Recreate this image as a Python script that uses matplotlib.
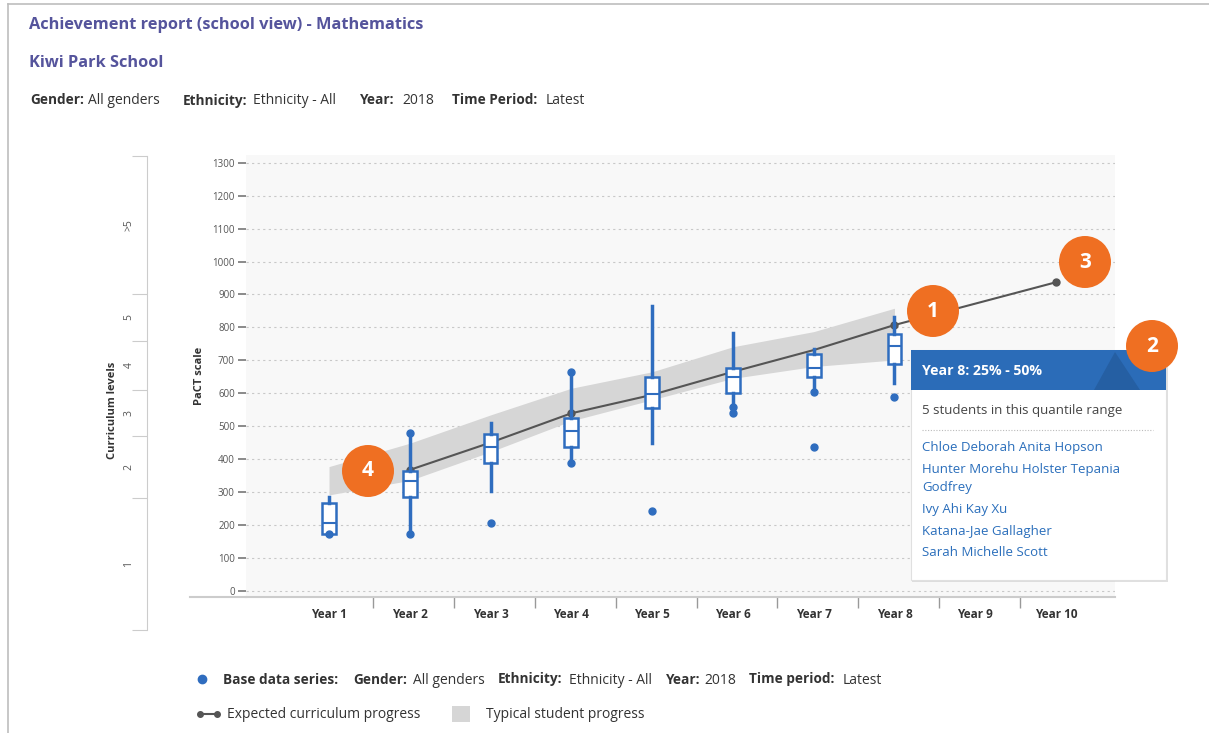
import numpy as np
import matplotlib
matplotlib.use('Agg')
import matplotlib.pyplot as plt
from matplotlib.patches import Ellipse, Rectangle, Polygon
from matplotlib.lines import Line2D

plt.rcParams['font.family'] = ['Open Sans', 'DejaVu Sans']

W, H = 1209, 733

# ---- data ----
years = ['Year 1', 'Year 2', 'Year 3', 'Year 4', 'Year 5',
         'Year 6', 'Year 7', 'Year 8', 'Year 9', 'Year 10']

box_years = [1, 2, 3, 4, 5, 6, 7, 8]
q1 = [172, 286, 389, 436, 554, 602, 650, 688]
med = [207, 333, 436, 486, 597, 650, 678, 742]
q3 = [267, 364, 476, 524, 650, 678, 719, 780]
whis_lo = [172, 172, 304, 387, 448, 559, 605, 630]
whis_hi = [286, 478, 510, 664, 866, 782, 733, 832]
outliers = [[172], [478, 172], [205], [664, 387], [242], [559, 541], [605, 436], [588]]

expected_years = [2, 3, 4, 5, 6, 7, 8, 9, 10]
expected = [367, 450, 539, 595, 665, 731, 807, 872, 937]

band_years = [1, 2, 3, 4, 5, 6, 7, 8]
band_hi = [377, 448, 534, 615, 665, 741, 787, 858]
band_lo = [291, 335, 422, 516, 580, 645, 681, 701]

level_bounds = [-120, 281, 468, 610, 758, 901, 1320]
level_names = ['1', '2', '3', '4', '5', '>5']

name_lines = ['Chloe Deborah Anita Hopson', 'Hunter Morehu Holster Tepania', 'Godfrey',
              'Ivy Ahi Kay Xu', 'Katana-Jae Gallagher', 'Sarah Michelle Scott']

blue = '#2f6dbf'
purple = '#55549c'
orange = '#ef6f22'

fig = plt.figure(figsize=(W / 100, H / 100), dpi=100)


def fx(px):
    return px / W


def fy(py):
    return 1 - py / H


# page frame
fig.add_artist(Line2D([fx(8), fx(8)], [fy(4), 0], color='#bdbdbd', lw=1.2))
fig.add_artist(Line2D([fx(8), 1], [fy(4), fy(4)], color='#bdbdbd', lw=1.2))

# header
fig.text(fx(29), fy(25), 'Achievement report (school view) - Mathematics', fontsize=11.8,
         fontweight='bold', color=purple, va='center')
fig.text(fx(29), fy(63), 'Kiwi Park School', fontsize=11.8, fontweight='bold', color=purple, va='center')


def runs(y, parts, color='#333333'):
    # parts: (x pixel, text, bold); y is the text middle, drawn on a shared baseline
    for x, txt, bold in parts:
        fig.text(fx(x), fy(y + 4.5), txt, fontsize=9.8 if bold else 10, color=color,
                 va='baseline', ha='left', fontweight=650 if bold else 'normal')


runs(100, [(30, 'Gender:', True), (88, 'All genders', False), (183, 'Ethnicity:', True),
           (253, 'Ethnicity - All', False), (360, 'Year:', True), (402, '2018', False),
           (452, 'Time Period:', True), (546, 'Latest', False)])

# ---- main axes ----
ax = fig.add_axes([fx(246), fy(597), (1115 - 246) / W, (597 - 155) / H])
ax.set_xlim(-0.0275, 10.73)
ax.set_ylim(-19.1, 1323.5)
ax.set_facecolor('#f8f8f8')
for s in ['top', 'right', 'left']:
    ax.spines[s].set_visible(False)
ax.spines['bottom'].set_color('#cccccc')
ax.spines['bottom'].set_linewidth(1.5)
fig.add_artist(Line2D([fx(190), fx(246)], [fy(597), fy(597)], color='#cccccc', lw=1.5))

ax.set_yticks(np.arange(0, 1301, 100))
ax.tick_params(axis='y', length=6, width=1.2, color='#777777', labelsize=7, labelcolor='#555555', pad=2)
ax.yaxis.grid(True, ls=(0, (2, 3)), color='#c8c8c8', lw=0.8)
ax.set_axisbelow(True)
ax.set_xticks(range(1, 11))
ax.set_xticklabels(years, fontweight='bold', fontsize=8.5, color='#333333')
ax.tick_params(axis='x', which='major', length=0, pad=8)
ax.set_xticks(np.arange(1.55, 10, 1), minor=True)
ax.tick_params(axis='x', which='minor', length=8, color='#999999', width=1)

ax.fill_between(band_years, band_lo, band_hi, color='#d6d6d6', lw=0, zorder=1)
ax.plot(expected_years, expected, color='#555555', lw=1.5, marker='o', markersize=5,
        markevery=[0, 2, 6, 8], zorder=2)

stats = []
for i in range(len(box_years)):
    stats.append(dict(q1=q1[i], med=med[i], q3=q3[i], whislo=whis_lo[i], whishi=whis_hi[i],
                      fliers=outliers[i]))
ax.bxp(stats, positions=box_years, widths=0.17, patch_artist=True, showcaps=False,
       manage_ticks=False,
       boxprops=dict(facecolor='white', edgecolor=blue, lw=1.8),
       medianprops=dict(color=blue, lw=1.5),
       whiskerprops=dict(color=blue, lw=2.5),
       flierprops=dict(marker='o', markerfacecolor=blue, markeredgecolor=blue, markersize=5),
       zorder=3)

fig.text(fx(199), fy(376), 'PaCT scale', rotation=90, fontsize=8, fontweight='bold',
         color='#333333', va='center', ha='center')

# ---- curriculum level axis ----
cax = fig.add_axes([fx(80), fy(630), (147 - 80) / W, (630 - 156) / H])
cax.set_ylim(-120, 1320)
cax.set_xlim(0, 1)
cax.patch.set_visible(False)
for s in ['top', 'left', 'bottom']:
    cax.spines[s].set_visible(False)
cax.spines['right'].set_color('#cccccc')
cax.set_xticks([])
cax.yaxis.tick_right()
cax.set_yticks(level_bounds)
cax.tick_params(axis='y', direction='in', length=11, color='#cccccc', labelright=False)
mids = [(level_bounds[i] + level_bounds[i + 1]) / 2 for i in range(len(level_names))]
for m, name in zip(mids, level_names):
    cax.text(0.73, m, name, rotation=90, fontsize=7.5, color='#555555', ha='center', va='center',
             transform=cax.get_yaxis_transform())
fig.text(fx(113), fy(410), 'Curriculum levels', rotation=90, fontsize=8, fontweight='bold',
         color='#333333', va='center', ha='center')

# ---- tooltip ----
fig.add_artist(Rectangle((fx(912), fy(582)), (1168 - 912) / W, (582 - 351) / H,
                         transform=fig.transFigure, facecolor='#cccccc', edgecolor='none', alpha=0.6))
fig.add_artist(Rectangle((fx(911), fy(580)), (1166 - 911) / W, (580 - 350) / H,
                         transform=fig.transFigure, facecolor='white', edgecolor='#e0e0e0', lw=0.8))
fig.add_artist(Rectangle((fx(911), fy(390)), (1166 - 911) / W, 40 / H,
                         transform=fig.transFigure, facecolor='#2b6cb8', edgecolor='none'))
fig.add_artist(Polygon([(fx(1094), fy(390)), (fx(1115), fy(352)), (fx(1140), fy(390))],
                       closed=True, transform=fig.transFigure, facecolor='#255fa3', edgecolor='none'))
fig.text(fx(922), fy(371), 'Year 8: 25% - 50%', fontsize=10.2, fontweight='bold', color='white', va='center')
fig.text(fx(922), fy(410), '5 students in this quantile range', fontsize=9.5, color='#444444', va='center')
fig.add_artist(Line2D([fx(922), fx(1153)], [fy(430), fy(430)], color='#bbbbbb', lw=0.8,
                      ls=(0, (1, 1.5))))
name_y = [448, 469, 488, 509, 531, 553]
for ny, nm in zip(name_y, name_lines):
    fig.text(fx(922), fy(ny), nm, fontsize=9.5, color='#2a6ebb', va='center')

# ---- numbered callouts ----
callouts = [('1', 933, 311), ('2', 1152, 346), ('3', 1085, 262), ('4', 368, 471)]
for num, cx, cy in callouts:
    fig.add_artist(Ellipse((fx(cx), fy(cy)), 52 / W, 52 / H, transform=fig.transFigure,
                           facecolor=orange, edgecolor='none'))
    fig.text(fx(cx), fy(cy), num, fontsize=15, fontweight='bold', color='white', ha='center', va='center')

# ---- legend ----
fig.add_artist(Line2D([fx(202)], [fy(679)], marker='o', color=blue, markersize=6, lw=0))
runs(679, [(223, 'Base data series:', True), (353, 'Gender:', True), (413, 'All genders', False),
           (498, 'Ethnicity:', True), (569, 'Ethnicity - All', False), (666, 'Year:', True),
           (704, '2018', False), (749, 'Time period:', True), (843, 'Latest', False)])
fig.add_artist(Line2D([fx(200), fx(217)], [fy(714), fy(714)], color='#555555', lw=1.5,
                      marker='o', markersize=4))
fig.text(fx(227), fy(714), 'Expected curriculum progress', fontsize=10, color='#333333', va='center')
fig.add_artist(Rectangle((fx(452), fy(722)), 18 / W, 16 / H, transform=fig.transFigure,
                         facecolor='#d6d6d6', edgecolor='none'))
fig.text(fx(486), fy(714), 'Typical student progress', fontsize=10, color='#333333', va='center')

fig.savefig('out.png', dpi=100)
